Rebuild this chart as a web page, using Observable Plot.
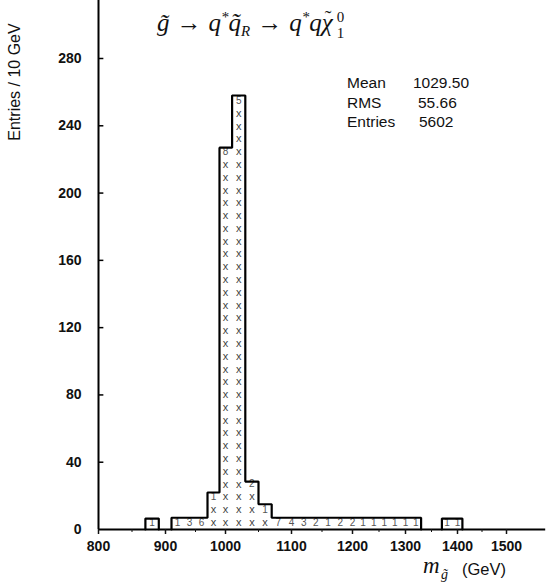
<!DOCTYPE html>
<html><head><meta charset="utf-8">
<script src="https://cdn.jsdelivr.net/npm/d3@7"></script>
<script src="https://cdn.jsdelivr.net/npm/@observablehq/plot@0.6"></script>
<style>
body{margin:0;background:#fff;}
#wrap{position:relative;width:547px;height:587px;overflow:hidden;}
#wrap svg{position:absolute;left:0;top:0;}
.ov{position:absolute;white-space:nowrap;color:#111;}
.title{font-family:"Liberation Serif",serif;font-style:italic;font-size:25px;left:157px;top:9px;}
.title .n{font-style:normal;margin:0 7px;}
.title sup,.title sub{font-size:15px;}
.title sup{vertical-align:9px;line-height:0;}
.title sub{vertical-align:-5px;line-height:0;}
.acc{position:relative;display:inline-block;}
.acc::after{content:"\02DC";position:absolute;left:3px;top:-1px;font-style:normal;font-size:20px;line-height:20px;}
.ss{display:inline-block;vertical-align:-7px;line-height:16px;font-size:15px;font-style:normal;margin-left:4px;}
.ss span{display:block;}
.stat{font-family:"Liberation Sans",Arial,sans-serif;font-size:15.5px;line-height:18px;}
.ytitle{font-family:"Liberation Sans",Arial,sans-serif;font-size:16px;left:15px;top:82px;transform:translate(-50%,-50%) rotate(-90deg);}
.xm{left:423px;top:553px;font-family:"Liberation Serif",serif;font-style:italic;font-size:23px;}
.xs{left:441px;top:567px;font-family:"Liberation Serif",serif;font-style:italic;font-size:14px;}
.xu{left:462px;top:560px;font-family:"Liberation Sans",Arial,sans-serif;font-size:16.5px;}
</style></head><body><div id="wrap"></div>
<script>
// ---- data ----
const binLo = [870, 910, 930, 950, 970, 990, 1010, 1030, 1050,
  1070, 1090, 1110, 1130, 1150, 1170, 1190, 1210, 1230, 1250, 1270, 1290, 1310,
  1370, 1390];
const binWidth = 20;
const binHeight = [6.5, 7, 7, 7, 22, 227, 258, 28.5, 15,
  7, 7, 7, 7, 7, 7, 7, 7, 7, 7, 7, 7, 7,
  6.5, 6.5];
const xMarkCount = [0, 0, 0, 0, 2, 29, 33, 3, 1,
  0, 0, 0, 0, 0, 0, 0, 0, 0, 0, 0, 0, 0,
  0, 0];
const topDigit = ["1", "1", "3", "6", "1", "8", "5", "2", "1",
  "7", "4", "3", "2", "1", "2", "2", "1", "1", "1", "1", "1", "1",
  "1", "1"];
const xTicks = [800, 900, 1000, 1100, 1200, 1300, 1400, 1500];
const xMinorTicks = [850, 950, 1050, 1150, 1250, 1350, 1450];
const yTicks = [0, 40, 80, 120, 160, 200, 240, 280];
const statNames = ["Mean", "RMS", "Entries"];
const statValues = ["1029.50", "55.66", "5602"];

// ---- derived tables ----
const outline = [];
let g = -1;
binLo.forEach((lo, i) => {
  const contiguous = i > 0 && binLo[i - 1] + binWidth === lo;
  if (!contiguous) {
    if (i > 0) outline.push({x: binLo[i - 1] + binWidth, y: 0, g});
    g++;
    outline.push({x: lo, y: 0, g});
  }
  outline.push({x: lo, y: binHeight[i], g}, {x: lo + binWidth, y: binHeight[i], g});
});
outline.push({x: binLo[binLo.length - 1] + binWidth, y: 0, g});

const rowBase = 4.2, rowStep = 7.6;
const cells = [];
binLo.forEach((lo, i) => {
  for (let k = 0; k < xMarkCount[i]; k++) cells.push({x: lo + binWidth / 2, y: rowBase + rowStep * k, t: "x", kind: "x"});
  cells.push({x: lo + binWidth / 2, y: rowBase + rowStep * xMarkCount[i], t: topDigit[i], kind: "d"});
});

const chart = Plot.plot({
  width: 547, height: 587,
  marginLeft: 97, marginRight: 4, marginTop: 0, marginBottom: 58,
  style: {background: "transparent", fontFamily: "Liberation Sans, Arial, sans-serif", color: "#111"},
  x: {type: "linear", domain: xTicks, range: [98, 165, 225, 291, 352, 405, 457, 506]},
  y: {type: "linear", domain: [0, 280], range: [529, 58]},
  marks: [
    Plot.text(cells.filter(d => d.kind === "x"), {x: "x", y: "y", text: "t", fontSize: 11, fill: "#444"}),
    Plot.text(cells.filter(d => d.kind === "d"), {x: "x", y: "y", text: "t", fontSize: 10, fill: "#555"}),
    Plot.line(outline, {x: "x", y: "y", z: "g", stroke: "#000", strokeWidth: 2.2, strokeLinejoin: "miter"}),
    Plot.ruleX([800], {y1: 0, y2: 320, stroke: "#000", strokeWidth: 2}),
    Plot.ruleY([0], {x1: 800, x2: 1580, stroke: "#000", strokeWidth: 2}),
    Plot.ruleY(yTicks.slice(1), {y: d => d, x1: 800, x2: 808, stroke: "#000", strokeWidth: 1.5}),
    Plot.axisX({ticks: xTicks, tickFormat: d => String(d), tickSize: 5, tickPadding: 7, fontSize: 14, fontWeight: "bold", label: null, strokeWidth: 1.5}),
    Plot.axisX({ticks: xMinorTicks, tickSize: 3, text: null, label: null, strokeWidth: 1}),
    Plot.axisY({ticks: yTicks, tickFormat: d => String(d), tickSize: 0, tickPadding: 16, fontSize: 14, fontWeight: "bold", label: null})
  ]
});
const wrap = document.getElementById("wrap");
wrap.appendChild(chart);

function ov(cls, html, style) {
  const d = document.createElement("div");
  d.className = "ov " + cls;
  d.innerHTML = html;
  if (style) d.setAttribute("style", style);
  wrap.appendChild(d);
}
ov("title", 'g&#771;<span class="n">&rarr;</span>q<sup>*</sup>q&#771;<sub>R</sub><span class="n">&rarr;</span>q<sup>*</sup>q<span class="acc">&chi;</span><span class="ss"><span>0</span><span>1</span></span>');
const statTop = [74, 93.5, 113];
const valLeft = [413, 418, 419];
statNames.forEach((s, i) => {
  ov("stat", s, `left:347px;top:${statTop[i]}px;`);
  ov("stat", statValues[i], `left:${valLeft[i]}px;top:${statTop[i]}px;`);
});
ov("ytitle", "Entries / 10 GeV");
ov("xm", "m");
ov("xs", "g&#771;");
ov("xu", "(GeV)");
</script>
</body></html>
